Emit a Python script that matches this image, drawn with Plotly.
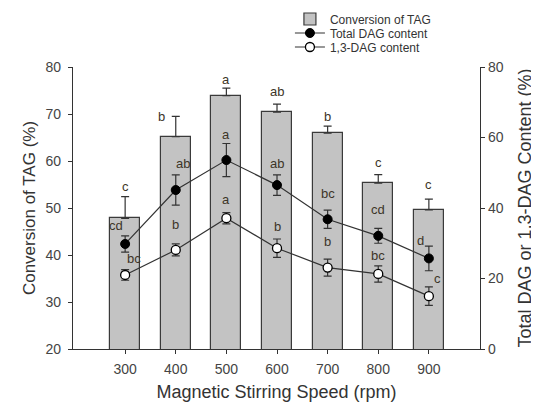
import plotly.graph_objects as go

speeds = [300, 400, 500, 600, 700, 800, 900]
tick_labels = ["300", "400", "500", "600", "700", "800", "900"]

conv_tag = [47.8, 65.2, 73.9, 70.4, 65.9, 55.3, 49.6]
conv_tag_err = [4.6, 4.3, 1.6, 1.7, 1.5, 1.8, 2.3]
conv_tag_letters = ["c", "b", "a", "ab", "b", "c", "c"]

total_dag = [29.8, 45.1, 53.6, 46.5, 36.8, 32.1, 25.7]
total_dag_err = [2.3, 4.3, 4.7, 2.9, 2.6, 2.1, 3.5]
total_dag_letters = ["cd", "ab", "a", "ab", "bc", "cd", "d"]

dag13 = [21.0, 28.1, 37.1, 28.6, 23.1, 21.3, 15.0]
dag13_err = [1.5, 1.7, 1.6, 2.6, 2.4, 2.3, 2.6]
dag13_letters = ["bc", "b", "a", "b", "b", "bc", "c"]

# label pixel offsets (style only)
bar_off = [(0, 10), (-14, 0), (0, 9), (0, 13), (0, 10), (0, 12), (0, 15)]
tot_off = [(-9, 10), (7, 11), (0, 9), (0, 11), (0, 17), (0, 19), (-8, 6)]
d13_off = [(9, 11), (0, 19), (0, 13), (0, 13), (0, 18), (0, 10), (9, 8)]

txt = "#333333"
font = "Liberation Sans, Arial, sans-serif"

fig = go.Figure()
fig.add_trace(go.Bar(
    x=speeds, y=conv_tag, width=59, name="Conversion of TAG",
    marker=dict(color="#c3c3c3", line=dict(color="#3a3a3a", width=1.2)),
    error_y=dict(type="data", array=conv_tag_err, arrayminus=[0]*7,
                 color="#333333", thickness=1.2, width=4),
    yaxis="y", legend="legend",
))
fig.add_trace(go.Scatter(
    x=speeds, y=total_dag, name="Total DAG content", mode="lines+markers",
    line=dict(color="#333333", width=1.2),
    marker=dict(symbol="circle", size=9, color="black", line=dict(color="black", width=1)),
    error_y=dict(type="data", array=total_dag_err, color="#333333", thickness=1.2, width=4),
    yaxis="y2", legend="legend2",
))
fig.add_trace(go.Scatter(
    x=speeds, y=dag13, name="1,3-DAG content", mode="lines+markers",
    line=dict(color="#333333", width=1.2),
    marker=dict(symbol="circle", size=9, color="white", line=dict(color="black", width=1.3)),
    error_y=dict(type="data", array=dag13_err, color="#333333", thickness=1.2, width=4),
    yaxis="y2", legend="legend3",
))

ann = []
for i, s in enumerate(speeds):
    ann.append(dict(x=s, y=conv_tag[i] + conv_tag_err[i], xref="x", yref="y",
                    text=conv_tag_letters[i], showarrow=False,
                    xshift=bar_off[i][0], yshift=bar_off[i][1]))
    ann.append(dict(x=s, y=total_dag[i] + total_dag_err[i], xref="x", yref="y2",
                    text=total_dag_letters[i], showarrow=False,
                    xshift=tot_off[i][0], yshift=tot_off[i][1]))
    ann.append(dict(x=s, y=dag13[i] + dag13_err[i], xref="x", yref="y2",
                    text=dag13_letters[i], showarrow=False,
                    xshift=d13_off[i][0], yshift=d13_off[i][1]))
for a in ann:
    a["font"] = dict(size=13, color="#3d3528", family=font)

axis_common = dict(showline=True, linecolor="#333333", linewidth=1.2,
                   ticks="outside", ticklen=4, tickcolor="#333333",
                   showgrid=False, zeroline=False,
                   tickfont=dict(size=14, color="#444444", family=font))

W, H = 531, 404
ML, MR, MT, MB = 65, 59, 59, 63
PH = H - MT - MB

def leg(row_px):
    return dict(x=0.533, y=(H - MB - row_px) / PH, xref="paper", yref="paper",
                xanchor="left", yanchor="middle", bgcolor="rgba(0,0,0,0)",
                font=dict(size=12, color="#333333", family=font), itemwidth=30)

fig.update_layout(
    width=W, height=H,
    margin=dict(l=ML, r=MR, t=MT, b=MB, autoexpand=False),
    paper_bgcolor="white", plot_bgcolor="white",
    font=dict(family=font, color=txt),
    showlegend=True,
    legend=leg(11), legend2=leg(25), legend3=leg(39),
    xaxis=dict(range=[197, 1001], tickvals=speeds, ticktext=tick_labels,
               ticklabelstandoff=3,
               title=dict(text="Magnetic Stirring Speed (rpm)", font=dict(size=18, color="#333333"),
                          standoff=9),
               **axis_common),
    yaxis=dict(range=[20, 80], dtick=10, ticklabelstandoff=4,
               title=dict(text="Conversion of TAG (%)", font=dict(size=17, color="#333333"),
                          standoff=5),
               **axis_common),
    yaxis2=dict(range=[0, 80], dtick=20, overlaying="y", side="right",
                title=dict(text="Total DAG or 1,3-DAG Content (%)", font=dict(size=18, color="#333333")),
                **axis_common),
    annotations=ann,
    bargap=0,
)

fig.write_html("out.html")
